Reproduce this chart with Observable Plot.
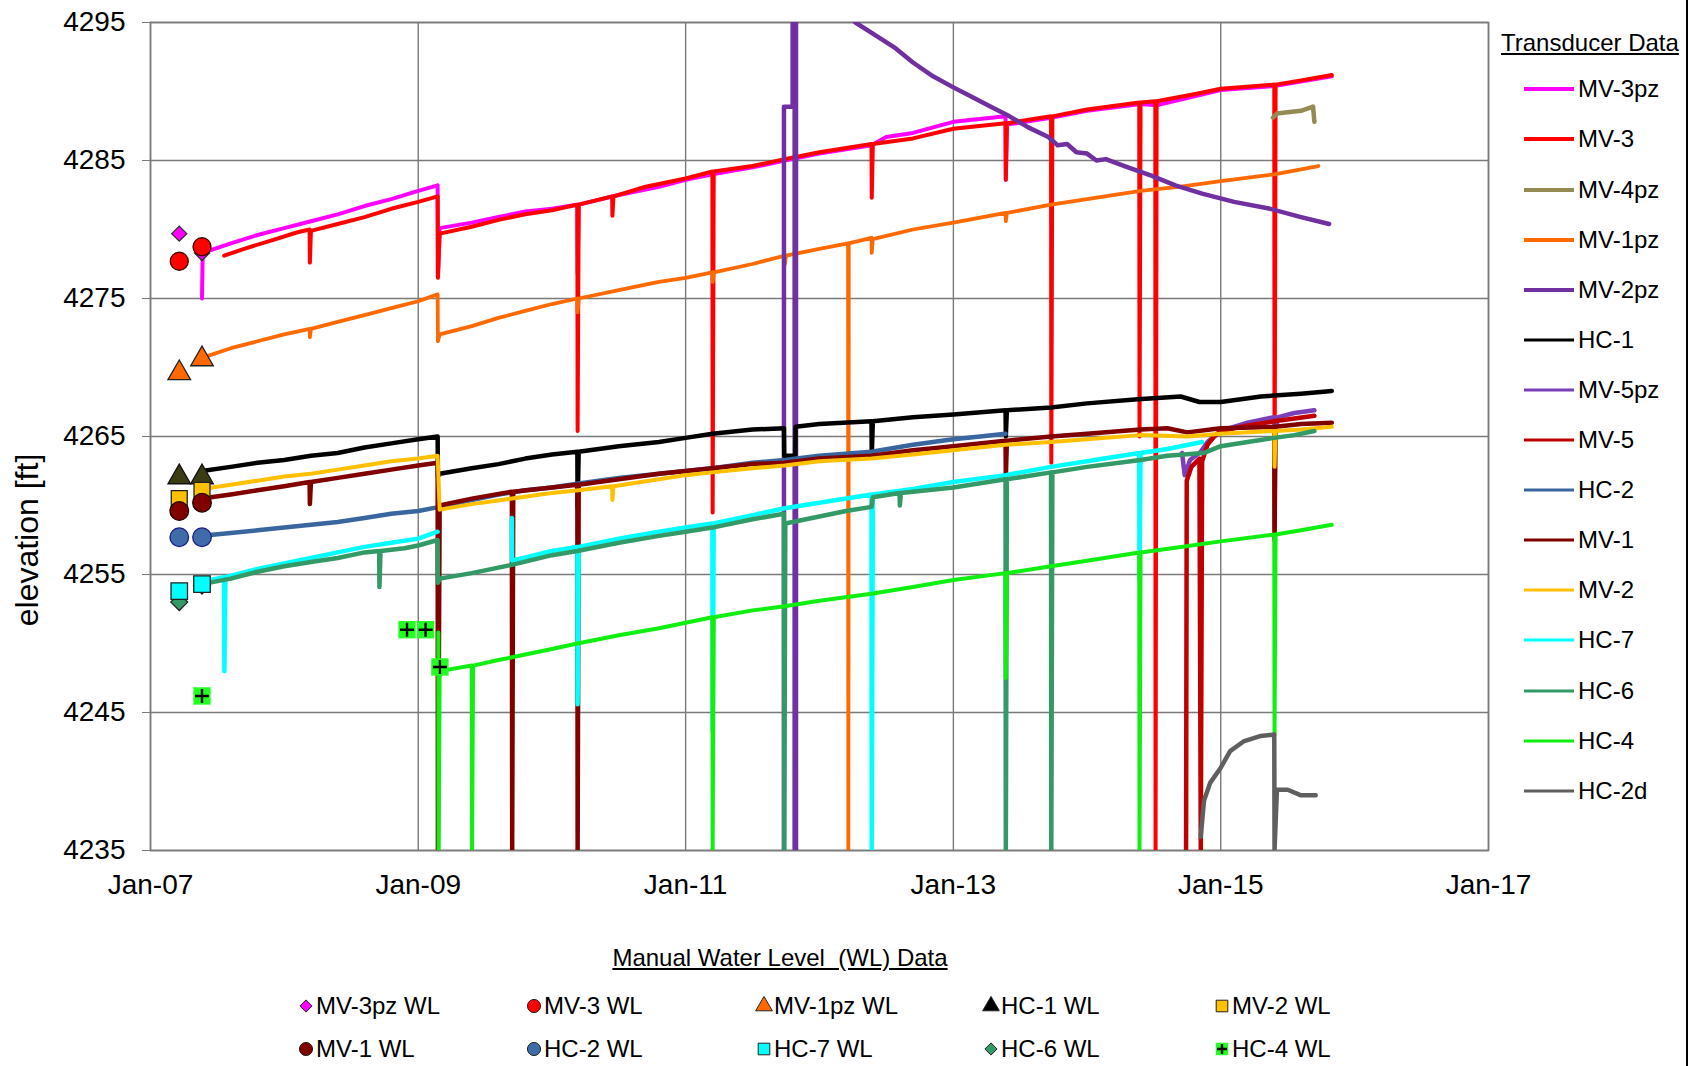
<!DOCTYPE html>
<html>
<head>
<meta charset="utf-8">
<script src="https://cdn.jsdelivr.net/npm/d3@7"></script>
<script src="https://cdn.jsdelivr.net/npm/@observablehq/plot@0.6"></script>
<style>
  html, body { margin: 0; padding: 0; background: #fff; }
  body { width: 1694px; height: 1066px; position: relative; overflow: hidden;
         font-family: "Liberation Sans", Arial, sans-serif; color: #000; }
  #chart { position: absolute; left: 0; top: 0; }
  .abs { position: absolute; white-space: pre; line-height: 1; }
  .ytitle { font-size: 32px; transform: translate(-50%, -50%) rotate(-90deg); }
  .ltitle { font-size: 24px; text-decoration: underline; }
  .litem { font-size: 24px; transform: translateY(-50%); }
  .border { position: absolute; left: 1686px; top: 0; width: 2px; height: 1066px; background: #000; }
</style>
</head>
<body>
<div id="chart"></div>
<div class="border"></div>
<script>
// ---------- tick labels ----------
const yTicks = [4235, 4245, 4255, 4265, 4275, 4285, 4295];
const xTickYears = [2007, 2009, 2011, 2013, 2015, 2017];

// ---------- transducer series: [decimal year, elevation ft] ----------
const MV3pz = [[2007.385,4275.0],[2007.39,4278.3],[2007.6,4279.0],[2007.8,4279.6],[2008.0,4280.1],[2008.2,4280.6],[2008.4,4281.1],[2008.6,4281.7],[2008.8,4282.2],[2009.0,4282.8],[2009.145,4283.2],[2009.147,4276.6],[2009.16,4280.1],[2009.4,4280.5],[2009.6,4280.9],[2009.8,4281.3],[2010.0,4281.5],[2010.19,4281.8],[2010.192,4276.8],[2010.2,4281.8],[2010.5,4282.5],[2010.8,4283.1],[2011.0,4283.6],[2011.2,4284.0],[2011.5,4284.5],[2011.74,4285.0],[2012.0,4285.5],[2012.39,4286.1],[2012.5,4286.7],[2012.7,4287.0],[2013.0,4287.8],[2013.39,4288.2],[2013.392,4283.6],[2013.4,4287.6],[2013.73,4288.1],[2014.0,4288.6],[2014.4,4289.1],[2014.52,4289.0],[2015.0,4290.1],[2015.4,4290.4],[2015.83,4291.1]];
const MV3 = [[2007.55,4278.1],[2007.7,4278.6],[2007.9,4279.2],[2008.1,4279.8],[2008.19,4280.0],[2008.192,4277.6],[2008.2,4279.9],[2008.4,4280.4],[2008.6,4280.9],[2008.8,4281.5],[2009.0,4282.0],[2009.145,4282.4],[2009.147,4276.5],[2009.16,4279.7],[2009.4,4280.2],[2009.6,4280.7],[2009.8,4281.1],[2010.0,4281.4],[2010.19,4281.8],[2010.192,4265.4],[2010.2,4281.8],[2010.45,4282.4],[2010.452,4281.0],[2010.46,4282.4],[2010.7,4283.1],[2011.0,4283.7],[2011.2,4284.2],[2011.202,4259.5],[2011.21,4284.2],[2011.5,4284.6],[2011.74,4285.1],[2012.0,4285.6],[2012.39,4286.2],[2012.392,4282.3],[2012.4,4286.2],[2012.7,4286.6],[2013.0,4287.3],[2013.39,4287.7],[2013.392,4283.6],[2013.4,4287.7],[2013.73,4288.2],[2013.732,4263.1],[2013.74,4288.2],[2014.0,4288.7],[2014.39,4289.2],[2014.392,4265.0],[2014.4,4289.2],[2014.51,4289.3],[2014.512,4235.0],[2014.52,4289.3],[2014.8,4289.8],[2015.0,4290.2],[2015.4,4290.5],[2015.402,4258.2],[2015.41,4290.5],[2015.6,4290.8],[2015.83,4291.2]];
const MV4pz = [[2015.39,4288.1],[2015.42,4288.4],[2015.5,4288.5],[2015.6,4288.6],[2015.69,4288.9],[2015.70,4287.8]];
const MV1pz = [[2007.385,4270.7],[2007.6,4271.4],[2007.8,4271.9],[2008.0,4272.4],[2008.19,4272.8],[2008.192,4272.2],[2008.2,4272.8],[2008.4,4273.3],[2008.6,4273.8],[2008.8,4274.3],[2009.0,4274.8],[2009.145,4275.3],[2009.147,4271.9],[2009.16,4272.4],[2009.4,4273.0],[2009.6,4273.6],[2009.8,4274.1],[2010.0,4274.6],[2010.19,4275.0],[2010.192,4274.0],[2010.2,4275.0],[2010.5,4275.6],[2010.8,4276.2],[2011.0,4276.5],[2011.2,4276.9],[2011.202,4276.2],[2011.21,4276.9],[2011.5,4277.5],[2011.74,4278.1],[2011.742,4277.5],[2011.75,4278.1],[2012.0,4278.6],[2012.215,4279.0],[2012.217,4235.0],[2012.22,4279.0],[2012.39,4279.4],[2012.392,4278.3],[2012.4,4279.3],[2012.7,4280.0],[2013.0,4280.5],[2013.39,4281.2],[2013.392,4280.6],[2013.4,4281.2],[2013.73,4281.8],[2014.0,4282.2],[2014.4,4282.8],[2014.7,4283.1],[2015.0,4283.5],[2015.4,4284.0],[2015.73,4284.6]];
const MV2pz = [[2011.735,4234.0],[2011.735,4288.9],[2011.80,4288.9],[2011.80,4296.0],[2011.815,4296.0],[2011.815,4234.0],[2011.825,4234.0],[2011.825,4300.0],[2012.27,4295.0],[2012.4,4294.2],[2012.56,4293.2],[2012.7,4292.1],[2012.85,4291.1],[2013.0,4290.3],[2013.14,4289.6],[2013.28,4288.9],[2013.42,4288.2],[2013.56,4287.4],[2013.71,4286.7],[2013.78,4286.1],[2013.85,4286.2],[2013.92,4285.6],[2014.0,4285.5],[2014.07,4285.0],[2014.14,4285.1],[2014.28,4284.6],[2014.48,4283.9],[2014.66,4283.2],[2014.86,4282.6],[2015.1,4282.0],[2015.37,4281.5],[2015.6,4280.9],[2015.81,4280.4]];
const HC1 = [[2007.385,4262.5],[2007.6,4262.8],[2007.8,4263.1],[2008.0,4263.3],[2008.2,4263.6],[2008.4,4263.8],[2008.6,4264.2],[2008.8,4264.5],[2009.0,4264.8],[2009.145,4265.0],[2009.147,4262.1],[2009.16,4262.3],[2009.4,4262.7],[2009.6,4263.0],[2009.8,4263.4],[2010.0,4263.7],[2010.19,4263.9],[2010.192,4259.9],[2010.2,4263.9],[2010.5,4264.3],[2010.8,4264.6],[2011.0,4264.9],[2011.2,4265.2],[2011.5,4265.5],[2011.735,4265.6],[2011.737,4263.6],[2011.82,4263.6],[2011.822,4265.7],[2012.0,4265.9],[2012.39,4266.1],[2012.392,4263.6],[2012.4,4266.1],[2012.7,4266.4],[2013.0,4266.6],[2013.39,4266.9],[2013.392,4265.0],[2013.4,4266.9],[2013.73,4267.1],[2014.0,4267.4],[2014.38,4267.7],[2014.7,4267.9],[2014.84,4267.5],[2015.0,4267.5],[2015.3,4267.9],[2015.6,4268.1],[2015.83,4268.3]];
const MV5pz = [[2014.71,4263.8],[2014.73,4262.2],[2014.77,4263.3],[2014.85,4263.9],[2014.9,4264.6],[2015.0,4265.4],[2015.2,4266.0],[2015.4,4266.4],[2015.41,4265.5],[2015.43,4266.4],[2015.55,4266.7],[2015.70,4266.9]];
const MV5 = [[2014.74,4235.0],[2014.745,4261.8],[2014.78,4262.8],[2014.84,4263.4],[2014.85,4235.0],[2014.86,4263.2],[2014.9,4264.4],[2014.95,4265.0],[2015.0,4265.4],[2015.2,4265.8],[2015.4,4266.1],[2015.55,4266.3],[2015.70,4266.5]];
const HC2 = [[2007.385,4257.8],[2007.6,4258.0],[2007.8,4258.2],[2008.0,4258.4],[2008.2,4258.6],[2008.4,4258.8],[2008.6,4259.1],[2008.8,4259.4],[2009.0,4259.6],[2009.16,4259.9],[2009.4,4260.4],[2009.6,4260.8],[2009.8,4261.1],[2010.0,4261.3],[2010.2,4261.6],[2010.5,4262.0],[2010.8,4262.3],[2011.0,4262.5],[2011.2,4262.7],[2011.5,4263.1],[2011.74,4263.3],[2012.0,4263.6],[2012.39,4263.9],[2012.7,4264.4],[2013.0,4264.8],[2013.2,4265.0],[2013.39,4265.2]];
const MV1 = [[2007.385,4260.5],[2007.6,4260.8],[2007.8,4261.1],[2008.0,4261.4],[2008.19,4261.7],[2008.192,4260.1],[2008.2,4261.7],[2008.4,4262.0],[2008.6,4262.3],[2008.8,4262.6],[2009.0,4262.9],[2009.145,4263.1],[2009.147,4235.0],[2009.16,4260.0],[2009.4,4260.5],[2009.70,4261.0],[2009.702,4235.0],[2009.71,4261.0],[2010.0,4261.3],[2010.19,4261.5],[2010.192,4235.0],[2010.2,4261.5],[2010.5,4261.9],[2010.8,4262.3],[2011.0,4262.5],[2011.2,4262.7],[2011.5,4263.0],[2011.74,4263.1],[2012.0,4263.4],[2012.39,4263.6],[2012.7,4264.0],[2013.0,4264.3],[2013.39,4264.7],[2013.392,4262.0],[2013.4,4264.7],[2013.73,4265.0],[2014.0,4265.2],[2014.4,4265.5],[2014.6,4265.6],[2014.75,4265.3],[2015.0,4265.6],[2015.4,4265.7],[2015.402,4257.5],[2015.41,4265.7],[2015.6,4265.9],[2015.83,4266.0]];
const MV2 = [[2007.385,4261.2],[2007.6,4261.5],[2007.8,4261.8],[2008.0,4262.1],[2008.2,4262.3],[2008.4,4262.6],[2008.6,4262.9],[2008.8,4263.2],[2009.0,4263.4],[2009.145,4263.6],[2009.16,4259.7],[2009.4,4260.1],[2009.70,4260.5],[2010.0,4260.9],[2010.2,4261.1],[2010.45,4261.4],[2010.452,4260.4],[2010.46,4261.4],[2010.8,4261.9],[2011.0,4262.2],[2011.2,4262.4],[2011.5,4262.7],[2011.74,4262.9],[2012.0,4263.2],[2012.39,4263.4],[2012.7,4263.7],[2013.0,4264.0],[2013.39,4264.4],[2013.73,4264.6],[2014.0,4264.8],[2014.4,4265.1],[2014.75,4265.0],[2015.0,4265.2],[2015.4,4265.4],[2015.402,4262.8],[2015.41,4265.4],[2015.6,4265.5],[2015.83,4265.7]];
const HC7 = [[2007.385,4254.5],[2007.55,4254.8],[2007.552,4248.0],[2007.56,4254.8],[2007.8,4255.4],[2008.0,4255.8],[2008.2,4256.2],[2008.4,4256.6],[2008.6,4257.0],[2008.8,4257.3],[2009.0,4257.6],[2009.145,4258.1],[2009.3,NaN],[2009.70,4259.1],[2009.702,4256.0],[2010.0,4256.7],[2010.19,4257.0],[2010.192,4245.6],[2010.2,4257.0],[2010.5,4257.6],[2010.8,4258.1],[2011.0,4258.4],[2011.2,4258.7],[2011.202,4243.7],[2011.21,4258.7],[2011.5,4259.3],[2011.74,4259.8],[2012.0,4260.2],[2012.39,4260.8],[2012.392,4235.0],[2012.4,4260.8],[2012.7,4261.2],[2013.0,4261.7],[2013.39,4262.2],[2013.73,4262.8],[2014.0,4263.2],[2014.39,4263.8],[2014.392,4254.6],[2014.4,4263.8],[2014.6,4264.1],[2014.86,4264.6]];
const HC6 = [[2007.385,4254.3],[2007.6,4254.7],[2007.8,4255.2],[2008.0,4255.6],[2008.2,4255.9],[2008.4,4256.2],[2008.6,4256.6],[2008.71,4256.7],[2008.712,4254.1],[2008.72,4256.7],[2008.9,4256.9],[2009.0,4257.1],[2009.145,4257.5],[2009.147,4254.4],[2009.16,4254.7],[2009.4,4255.1],[2009.70,4255.7],[2010.0,4256.4],[2010.19,4256.7],[2010.5,4257.3],[2010.8,4257.8],[2011.0,4258.1],[2011.2,4258.4],[2011.5,4259.0],[2011.735,4259.4],[2011.737,4235.0],[2011.745,4258.7],[2012.0,4259.2],[2012.2,4259.6],[2012.39,4259.9],[2012.4,4260.6],[2012.6,4260.9],[2012.602,4260.0],[2012.61,4260.9],[2013.0,4261.3],[2013.39,4261.9],[2013.392,4235.0],[2013.4,4261.9],[2013.73,4262.4],[2013.732,4235.0],[2013.74,4262.4],[2014.0,4262.8],[2014.4,4263.3],[2014.6,4263.6],[2014.87,4263.8],[2015.0,4264.3],[2015.2,4264.6],[2015.4,4264.9],[2015.55,4265.1],[2015.7,4265.4]];
const HC4 = [[2009.15,4250.8],[2009.152,4235.0],[2009.16,4248.0],[2009.40,4248.4],[2009.402,4235.0],[2009.41,4248.4],[2009.6,4248.8],[2009.8,4249.2],[2010.0,4249.6],[2010.19,4250.0],[2010.5,4250.6],[2010.8,4251.1],[2011.0,4251.5],[2011.2,4251.9],[2011.202,4235.0],[2011.21,4251.9],[2011.5,4252.4],[2011.74,4252.7],[2012.0,4253.1],[2012.39,4253.6],[2012.7,4254.1],[2013.0,4254.6],[2013.39,4255.1],[2013.392,4247.5],[2013.4,4255.1],[2013.73,4255.6],[2014.0,4256.0],[2014.39,4256.6],[2014.392,4235.0],[2014.4,4256.6],[2014.7,4257.0],[2015.0,4257.4],[2015.4,4257.9],[2015.402,4243.4],[2015.41,4257.9],[2015.6,4258.2],[2015.83,4258.6]];
const HC2d = [[2014.85,4236.0],[2014.874,4238.6],[2014.92,4239.9],[2015.0,4241.0],[2015.07,4242.2],[2015.17,4242.9],[2015.3,4243.3],[2015.40,4243.4],[2015.402,4235.0],[2015.42,4239.4],[2015.5,4239.4],[2015.6,4239.0],[2015.71,4239.0]];

// ---------- manual water level series ----------
const MV3pzWL = [[2007.215,4279.7],[2007.385,4278.3]];
const MV3WL = [[2007.215,4277.7],[2007.385,4278.75]];
const MV1pzWL = [[2007.215,4269.6],[2007.385,4270.6]];
const HC1WL = [[2007.215,4262.05],[2007.385,4262.05]];
const MV2WL = [[2007.215,4260.5],[2007.385,4261.1]];
const MV1WL = [[2007.215,4259.6],[2007.385,4260.2]];
const HC2WL = [[2007.215,4257.7],[2007.385,4257.7]];
const HC7WL = [[2007.215,4253.8],[2007.385,4254.3]];
const HC6WL = [[2007.215,4253.0],[2007.385,4254.2]];
const HC4WL = [[2007.385,4246.2],[2008.918,4251.0],[2009.055,4251.0],[2009.162,4248.3]];

// ---------- series styling ----------
const transducer = [
  {name: "MV-3pz", data: MV3pz, color: "#FF00FF", w: 4},
  {name: "MV-3",   data: MV3,   color: "#FF0000", w: 4},
  {name: "MV-4pz", data: MV4pz, color: "#948A54", w: 4.5},
  {name: "MV-1pz", data: MV1pz, color: "#FF6A00", w: 3.8},
  {name: "MV-2pz", data: MV2pz, color: "#7030A0", w: 4.5},
  {name: "HC-1",   data: HC1,   color: "#000000", w: 4.5},
  {name: "MV-5pz", data: MV5pz, color: "#7B3FB8", w: 4.5},
  {name: "MV-5",   data: MV5,   color: "#C00000", w: 4.5},
  {name: "HC-2",   data: HC2,   color: "#3A66A0", w: 4.5},
  {name: "MV-1",   data: MV1,   color: "#800000", w: 4.5},
  {name: "MV-2",   data: MV2,   color: "#FFC000", w: 4},
  {name: "HC-7",   data: HC7,   color: "#00FFFF", w: 4.5},
  {name: "HC-6",   data: HC6,   color: "#339966", w: 4.5},
  {name: "HC-4",   data: HC4,   color: "#11EE11", w: 4},
  {name: "HC-2d",  data: HC2d,  color: "#5F5F5F", w: 4.5}
];

// drawn in this order; legend order given separately
const manual = [
  {name: "MV-3pz WL", data: MV3pzWL, symbol: "diamond2", fill: "#FF00FF", stroke: "#333", r: 6.8},
  {name: "MV-3 WL",   data: MV3WL,   symbol: "circle",   fill: "#FF0000", stroke: "#400", r: 9},
  {name: "MV-1pz WL", data: MV1pzWL, symbol: "triangle", fill: "#FF6A00", stroke: "#222", r: 8.4},
  {name: "HC-1 WL",   data: HC1WL,   symbol: "triangle", fill: "#3C3C14", stroke: "#111", r: 8.4},
  {name: "MV-2 WL",   data: MV2WL,   symbol: "square",   fill: "#FFC000", stroke: "#222", r: 9},
  {name: "MV-1 WL",   data: MV1WL,   symbol: "circle",   fill: "#800000", stroke: "#200", r: 9.3},
  {name: "HC-2 WL",   data: HC2WL,   symbol: "circle",   fill: "#3F6BA8", stroke: "#1A1A8A", r: 9.3},
  {name: "HC-6 WL",   data: HC6WL,   symbol: "diamond2", fill: "#339966", stroke: "#222", r: 7.6},
  {name: "HC-7 WL",   data: HC7WL,   symbol: "square",   fill: "#00FFFF", stroke: "#222", r: 9.3},
  {name: "HC-4 WL",   data: HC4WL,   symbol: "square",   fill: "#22FF22", stroke: "none", r: 9.8}
];
const manualLegendOrder = ["MV-3pz WL", "MV-3 WL", "MV-1pz WL", "HC-1 WL", "MV-2 WL",
                           "MV-1 WL", "HC-2 WL", "HC-7 WL", "HC-6 WL", "HC-4 WL"];

const toDate = t => {
  const y = Math.floor(t);
  return new Date(Date.UTC(y, 0, 1) + (t - y) * 365.25 * 864e5);
};
const xTicks = xTickYears.map(y => new Date(Date.UTC(y, 0, 1)));

const marks = [
  Plot.gridY({ticks: yTicks, stroke: "#7a7a7a", strokeOpacity: 1, strokeWidth: 1.4}),
  Plot.gridX({ticks: xTicks, stroke: "#7a7a7a", strokeOpacity: 1, strokeWidth: 1.4}),
  Plot.frame({stroke: "#7a7a7a", strokeWidth: 1.6}),
  Plot.axisY({ticks: yTicks, tickSize: 8, tickPadding: 17, fontSize: 28, label: null, stroke: "#7a7a7a", tickFormat: d => String(d)}),
  Plot.axisX({ticks: xTicks, tickSize: 0, tickPadding: 24, fontSize: 28, label: null, tickFormat: d3.utcFormat("Jan-%y")})
];
for (const s of transducer) {
  marks.push(Plot.line(s.data, {x: d => toDate(d[0]), y: d => d[1], stroke: s.color, strokeWidth: s.w, clip: true, strokeLinejoin: "round"}));
}
for (const m of manual) {
  marks.push(Plot.dot(m.data, {x: d => toDate(d[0]), y: d => d[1], symbol: m.symbol, r: m.r, fill: m.fill, stroke: m.stroke, strokeWidth: 1.3}));
}
marks.push(Plot.dot(HC4WL, {x: d => toDate(d[0]), y: d => d[1], symbol: "plus", r: 4.6, stroke: "#000", strokeWidth: 2.4}));

const chart = Plot.plot({
  width: 1694,
  height: 930,
  marginLeft: 150,
  marginRight: 206,
  marginTop: 22,
  marginBottom: 80,
  style: {fontFamily: "'Liberation Sans', Arial, sans-serif", fontSize: "28px", color: "#000", background: "#fff", overflow: "visible"},
  x: {type: "utc", domain: [xTicks[0], xTicks[xTicks.length - 1]]},
  y: {domain: [4235, 4295]},
  marks
});
document.getElementById("chart").appendChild(chart);

// ---------- axis title ----------
const body = document.body;
function addDiv(cls, text, left, top) {
  const d = document.createElement("div");
  d.className = "abs " + cls;
  d.textContent = text;
  d.style.left = left + "px";
  d.style.top = top + "px";
  body.appendChild(d);
  return d;
}
addDiv("ytitle", "elevation [ft]", 27, 540);

// ---------- right legend: Transducer Data ----------
addDiv("ltitle", "Transducer Data", 1501, 31);
transducer.forEach((s, i) => {
  const cy = 89.3 + 50.1 * i;
  const svg = d3.create("svg").attr("width", 52).attr("height", 10)
    .style("position", "absolute").style("left", "1523px").style("top", (cy - 5) + "px");
  svg.append("line").attr("x1", 1).attr("x2", 51).attr("y1", 5).attr("y2", 5)
    .attr("stroke", s.color).attr("stroke-width", i < 5 ? 4 : 3.2);
  body.appendChild(svg.node());
  addDiv("litem", s.name, 1578, cy);
});

// ---------- bottom legend: Manual Water Level (WL) Data ----------
const bt = addDiv("ltitle", "Manual Water Level  (WL) Data", 780, 946);
bt.style.transform = "translateX(-50%)";
const colX = [306, 534, 764, 991, 1222];
const rowY = [1006, 1049];
manualLegendOrder.forEach((name, i) => {
  const m = manual.find(d => d.name === name);
  const cx = colX[i % 5], cy = rowY[Math.floor(i / 5)];
  const svg = d3.create("svg").attr("width", 20).attr("height", 20)
    .style("position", "absolute").style("left", (cx - 10) + "px").style("top", (cy - 10) + "px");
  const sym = {circle: d3.symbolCircle, diamond2: d3.symbolDiamond2, triangle: d3.symbolTriangle, square: d3.symbolSquare}[m.symbol];
  const size = {circle: 135, diamond2: 95, triangle: 120, square: 135}[m.symbol] + (name === "HC-4 WL" ? 20 : 0);
  svg.append("path").attr("transform", "translate(10,10)")
    .attr("d", d3.symbol(sym, size)())
    .attr("fill", name === "HC-1 WL" ? "#000" : m.fill)
    .attr("stroke", name === "HC-4 WL" ? "none" : "#222").attr("stroke-width", 1);
  if (name === "HC-4 WL") {
    svg.append("path").attr("transform", "translate(10,10)")
      .attr("d", "M-5,0H5M0,-5V5").attr("stroke", "#000").attr("stroke-width", 2.4);
  }
  body.appendChild(svg.node());
  addDiv("litem", m.name, cx + 10, cy);
});
</script>
</body>
</html>
